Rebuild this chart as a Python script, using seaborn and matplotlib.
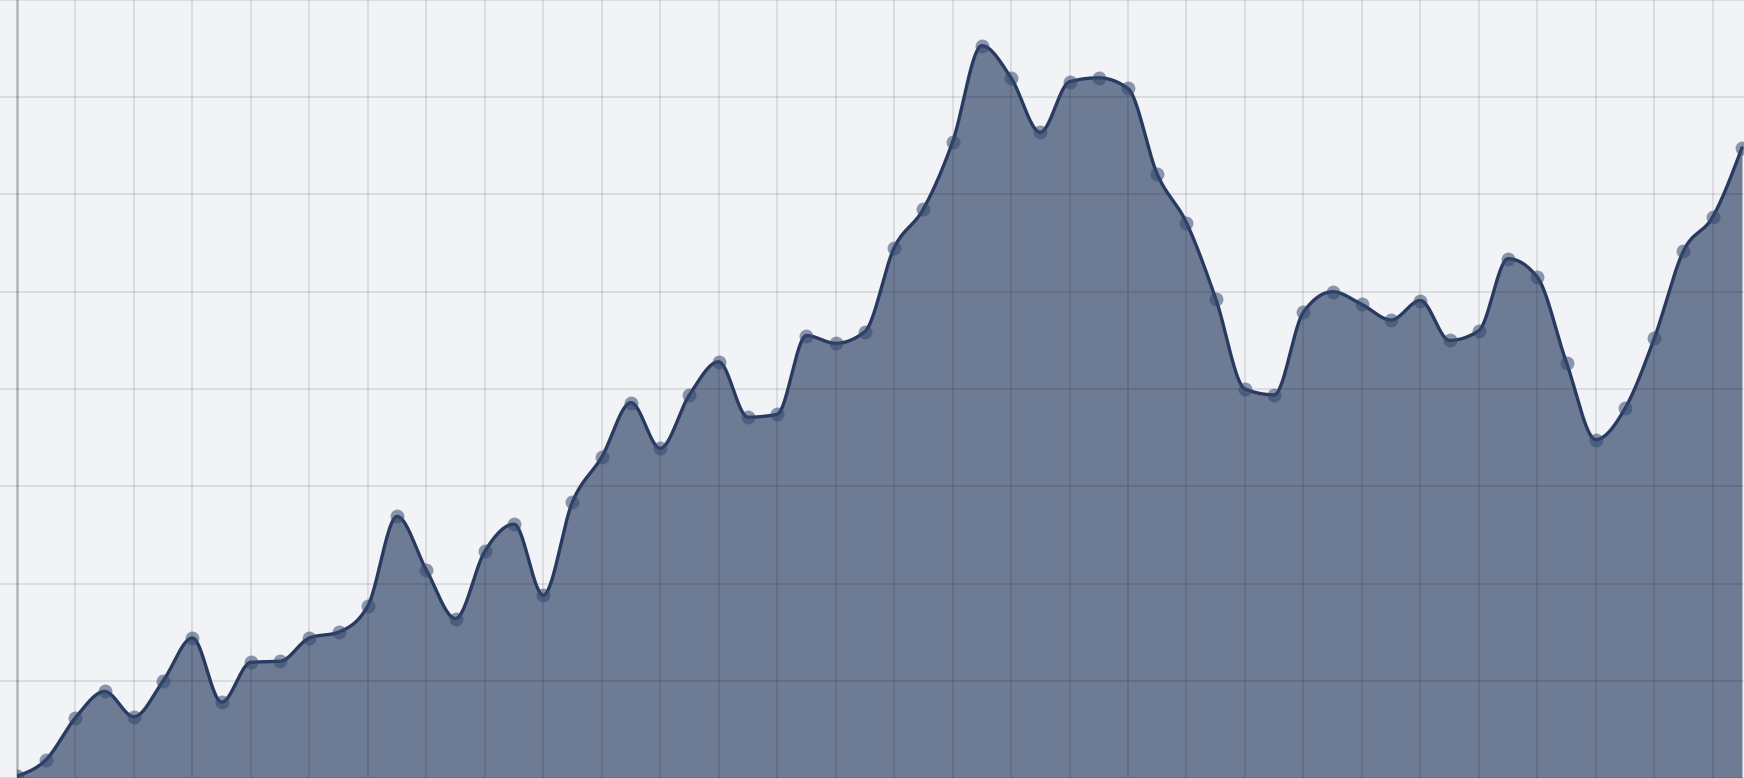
import matplotlib
matplotlib.use("Agg")
import matplotlib.pyplot as plt
import numpy as np
import pandas as pd
import seaborn as sns

# values (one gridline = 10 units)
idx = list(range(60))
values = [
    0.2, 1.9, 6.2, 8.9, 6.3, 10.0, 14.4, 7.8, 11.9, 12.0,
    14.4, 15.0, 17.7, 26.9, 21.4, 16.4, 23.3, 26.1, 18.8, 28.4,
    33.0, 38.6, 33.9, 39.4, 42.8, 37.1, 37.4, 45.5, 44.7, 45.9,
    54.5, 58.5, 65.4, 75.3, 72.0, 66.4, 71.6, 72.0, 70.9, 62.1,
    57.1, 49.3, 40.0, 39.4, 47.9, 50.0, 48.7, 47.1, 49.1, 45.0,
    46.0, 53.4, 51.5, 42.7, 34.8, 38.0, 45.2, 54.2, 57.7, 64.8,
]

BG = "#f2f3f7"
FILL = "#6e7b94"
LINE = "#283a5f"

df = pd.DataFrame({"x": idx, "y": values})


def monotone_curve(x, y, n=40):
    # monotone cubic so the curve passes through each point without overshoot
    x = np.asarray(x, float)
    y = np.asarray(y, float)
    h = np.diff(x)
    d = np.diff(y) / h
    m = np.zeros_like(y)
    for k in range(1, len(y) - 1):
        s0, s1 = d[k - 1], d[k]
        p = (s0 * h[k] + s1 * h[k - 1]) / (h[k - 1] + h[k])
        m[k] = (np.sign(s0) + np.sign(s1)) * min(abs(s0), abs(s1), 0.5 * abs(p))
    m[0] = (3 * d[0] - m[1]) / 2
    m[-1] = (3 * d[-1] - m[-2]) / 2
    xs, ys = [], []
    for k in range(len(y) - 1):
        t = np.linspace(0, 1, n, endpoint=False)
        h00 = 2 * t**3 - 3 * t**2 + 1
        h10 = t**3 - 2 * t**2 + t
        h01 = -2 * t**3 + 3 * t**2
        h11 = t**3 - t**2
        xs.append(x[k] + t * h[k])
        ys.append(h00 * y[k] + h10 * h[k] * m[k] + h01 * y[k + 1] + h11 * h[k] * m[k + 1])
    xs.append([x[-1]])
    ys.append([y[-1]])
    return np.concatenate(xs), np.concatenate(ys)


sns.set_theme(style="whitegrid")

fig = plt.figure(figsize=(17.44, 7.78), dpi=100)
fig.patch.set_facecolor(BG)
ax = fig.add_axes([17 / 1744, 0, 1 - 17 / 1744, 1])
ax.set_facecolor(BG)

sx, sy = monotone_curve(df["x"], df["y"])
smooth = pd.DataFrame({"x": sx, "y": sy})

ax.fill_between(smooth["x"], smooth["y"], 0, color=FILL, lw=0, zorder=1)
sns.lineplot(data=smooth, x="x", y="y", ax=ax, color=LINE, lw=2.4, zorder=3)
sns.scatterplot(data=df, x="x", y="y", ax=ax, color="#34476e", alpha=0.55,
                s=100, linewidth=0, zorder=4)

ax.set_xlim(0, 59.07)
ax.set_ylim(0, 80)
ax.set_xticks(idx[::2])
ax.set_yticks(range(0, 81, 10))
ax.set_xticklabels([])
ax.set_yticklabels([])
ax.set_xlabel("")
ax.set_ylabel("")

ax.set_axisbelow(False)
ax.grid(True, color="black", alpha=0.1, lw=1.3, zorder=2)
ax.tick_params(axis="y", length=12.2, width=1.3, color=(0, 0, 0, 0.1), left=True)
ax.tick_params(axis="x", length=0)
for side in ["top", "right", "bottom"]:
    ax.spines[side].set_visible(False)
ax.spines["left"].set_color((0, 0, 0, 0.2))
ax.spines["left"].set_linewidth(2)

fig.savefig("out.png", dpi=100, facecolor=BG)
